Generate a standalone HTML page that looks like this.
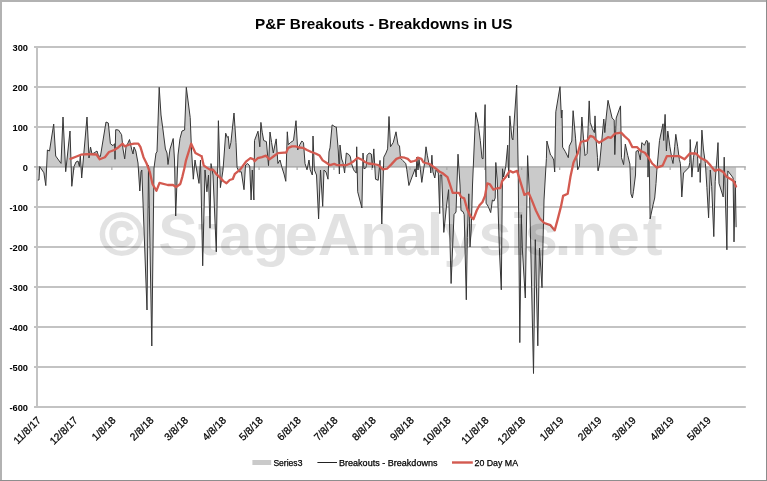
<!DOCTYPE html><html><head><meta charset="utf-8"><style>html,body{margin:0;padding:0;background:#fff;}svg{display:block;} svg text{filter:grayscale(1);}</style></head><body>
<svg width="767" height="481" viewBox="0 0 767 481">
<rect x="0" y="0" width="767" height="481" fill="#ffffff"/>
<rect x="34" y="46.00" width="711.80" height="2" fill="#c3c3c3"/>
<rect x="34" y="86.00" width="711.80" height="2" fill="#c3c3c3"/>
<rect x="34" y="126.00" width="711.80" height="2" fill="#c3c3c3"/>
<rect x="34" y="206.00" width="711.80" height="2" fill="#c3c3c3"/>
<rect x="34" y="246.00" width="711.80" height="2" fill="#c3c3c3"/>
<rect x="34" y="286.00" width="711.80" height="2" fill="#c3c3c3"/>
<rect x="34" y="326.00" width="711.80" height="2" fill="#c3c3c3"/>
<rect x="34" y="366.00" width="711.80" height="2" fill="#c3c3c3"/>
<rect x="34" y="406.00" width="711.80" height="2" fill="#c3c3c3"/>
<rect x="36" y="46.00" width="2" height="362.00" fill="#c3c3c3"/>
<text x="28.0" y="51.10" text-anchor="end" font-family="Liberation Sans, sans-serif" font-size="9.3" font-weight="bold" fill="#000">300</text>
<text x="28.0" y="91.10" text-anchor="end" font-family="Liberation Sans, sans-serif" font-size="9.3" font-weight="bold" fill="#000">200</text>
<text x="28.0" y="131.10" text-anchor="end" font-family="Liberation Sans, sans-serif" font-size="9.3" font-weight="bold" fill="#000">100</text>
<text x="28.0" y="171.10" text-anchor="end" font-family="Liberation Sans, sans-serif" font-size="9.3" font-weight="bold" fill="#000">0</text>
<text x="28.0" y="211.10" text-anchor="end" font-family="Liberation Sans, sans-serif" font-size="9.3" font-weight="bold" fill="#000">-100</text>
<text x="28.0" y="251.10" text-anchor="end" font-family="Liberation Sans, sans-serif" font-size="9.3" font-weight="bold" fill="#000">-200</text>
<text x="28.0" y="291.10" text-anchor="end" font-family="Liberation Sans, sans-serif" font-size="9.3" font-weight="bold" fill="#000">-300</text>
<text x="28.0" y="331.10" text-anchor="end" font-family="Liberation Sans, sans-serif" font-size="9.3" font-weight="bold" fill="#000">-400</text>
<text x="28.0" y="371.10" text-anchor="end" font-family="Liberation Sans, sans-serif" font-size="9.3" font-weight="bold" fill="#000">-500</text>
<text x="28.0" y="411.10" text-anchor="end" font-family="Liberation Sans, sans-serif" font-size="9.3" font-weight="bold" fill="#000">-600</text>
<path d="M37.7,167.0 L37.7,180.0 39.0,180.0 39.7,166.5 43.9,172.8 45.8,185.6 47.4,150.0 49.5,151.0 53.7,124.0 55.7,156.0 61.0,163.4 63.0,117.0 65.7,171.7 70.0,131.0 71.8,186.3 74.0,166.5 76.0,162.0 78.0,161.0 79.4,166.5 80.3,155.0 81.7,178.0 87.0,117.0 89.0,158.0 90.5,147.0 92.0,154.0 94.0,153.0 97.0,151.0 98.4,155.7 100.4,156.5 106.0,122.0 108.3,123.0 110.4,143.7 113.0,145.7 114.6,143.7 115.0,159.3 115.7,129.7 118.5,130.0 121.6,134.7 123.0,149.0 124.7,158.9 126.0,147.0 128.0,143.0 129.5,139.5 131.6,149.0 133.0,154.0 134.0,147.0 135.8,151.0 138.0,163.0 139.8,191.0 141.0,172.0 141.8,170.0 147.0,310.0 148.5,165.0 151.8,346.0 154.0,168.0 156.0,153.0 157.0,152.0 159.2,87.3 161.0,115.0 163.0,130.0 165.4,149.0 167.0,153.0 168.0,164.5 170.0,149.0 171.3,145.0 173.2,138.5 174.5,160.0 175.7,216.0 178.0,155.0 180.0,138.5 182.0,131.0 184.6,130.0 186.3,87.3 190.2,117.6 191.5,150.0 193.3,179.2 195.0,160.0 197.0,172.0 199.0,183.4 200.5,160.0 202.7,265.8 205.0,170.0 206.9,191.8 208.5,175.0 210.0,228.2 211.0,163.6 213.0,175.0 216.3,251.8 218.4,120.7 220.4,187.6 223.0,170.0 225.7,133.2 227.3,137.4 228.2,136.4 229.4,148.9 230.9,142.6 234.0,113.0 236.0,142.6 237.1,167.7 239.0,171.8 241.3,171.8 244.0,189.7 245.5,165.0 247.6,163.5 249.7,166.0 251.1,200.0 252.3,170.0 253.9,200.0 254.5,140.5 258.0,131.2 259.8,146.8 260.9,122.4 262.2,132.2 263.7,140.5 266.4,141.6 268.5,165.6 270.0,132.0 271.6,142.6 273.3,153.0 276.2,138.9 277.9,163.5 280.0,160.0 282.0,167.7 284.0,174.0 285.8,181.3 287.3,131.8 288.3,144.7 290.4,142.6 293.5,140.5 296.0,120.7 297.7,150.0 299.8,144.7 301.9,141.0 303.5,142.6 305.0,163.5 307.0,169.8 309.0,160.0 310.2,169.8 312.3,175.0 313.0,136.0 314.4,170.0 316.5,175.0 318.6,218.9 320.5,170.0 322.7,206.4 324.0,170.0 326.0,172.0 328.0,179.2 329.0,152.0 330.0,147.8 332.1,124.9 335.3,127.0 336.3,127.0 338.3,151.0 339.4,174.0 340.0,145.0 341.7,159.0 343.0,162.5 344.6,173.0 346.3,153.0 348.0,154.0 349.4,155.0 350.4,157.0 351.5,163.5 353.6,169.8 355.0,171.8 356.3,173.0 356.7,146.8 357.7,191.8 361.9,208.0 363.0,153.0 364.0,168.8 366.0,167.7 367.1,155.2 369.2,153.0 371.3,154.0 372.4,167.7 373.8,148.9 375.1,172.0 375.5,179.2 378.2,180.3 379.2,170.0 380.0,160.4 381.8,224.0 383.8,157.2 386.0,153.0 387.6,148.9 389.0,116.5 390.5,146.8 393.2,142.6 396.0,131.8 398.0,144.7 399.5,145.8 400.5,158.3 402.6,160.4 405.8,163.5 406.8,169.8 408.9,185.5 412.0,177.0 415.2,168.8 416.2,177.0 416.8,157.2 418.0,170.0 419.0,159.3 420.4,169.8 421.8,182.4 424.5,163.5 426.0,146.8 427.3,155.2 428.7,162.5 430.4,167.7 430.8,173.0 431.9,155.2 432.9,171.8 434.8,178.0 436.0,170.0 438.3,173.0 439.7,213.6 440.2,175.0 441.7,175.0 443.8,232.4 446.5,206.0 448.6,189.7 451.1,283.5 454.0,214.6 456.0,212.0 458.0,154.2 460.0,185.0 461.0,210.5 463.0,211.6 464.2,214.6 466.3,299.8 467.3,237.7 468.8,193.8 470.0,247.0 471.2,230.0 472.5,185.0 474.0,150.0 475.7,112.4 478.2,123.8 480.3,140.5 482.0,158.3 483.0,158.9 485.1,104.6 486.1,203.2 488.2,206.4 490.7,212.6 492.4,200.0 494.0,201.1 495.2,198.0 495.8,162.5 497.2,180.0 499.4,250.0 501.3,289.8 502.5,168.8 503.6,177.0 505.7,166.7 507.7,145.2 508.8,178.0 509.8,115.9 511.9,137.9 512.9,139.9 516.7,85.0 518.2,170.0 519.8,342.6 521.3,214.7 522.4,250.0 525.3,298.0 527.6,155.6 529.7,200.0 533.5,373.5 535.3,239.7 537.8,345.8 539.5,248.0 542.0,287.7 544.0,200.0 546.4,158.4 546.9,141.0 550.5,155.0 552.2,156.6 553.7,160.0 554.7,172.0 555.8,111.8 560.0,86.7 561.4,118.0 562.0,110.0 562.6,147.2 565.2,151.4 568.3,157.7 569.3,146.2 571.8,141.0 573.1,110.7 575.6,138.9 577.7,169.8 579.4,166.0 581.9,117.0 583.5,138.9 585.0,155.6 587.1,153.5 589.2,100.9 590.2,122.2 592.3,128.5 594.4,132.6 595.0,115.9 596.0,138.9 597.5,157.7 598.1,170.9 599.6,164.0 603.8,119.0 604.8,132.6 605.9,120.1 608.0,100.3 612.1,118.0 614.2,120.1 614.8,154.6 616.2,118.0 620.5,105.9 621.5,157.7 623.6,164.6 625.3,144.1 627.8,155.6 629.9,164.0 630.9,193.8 632.4,198.0 633.4,191.8 635.5,175.0 636.0,151.4 638.2,150.4 640.3,159.8 641.8,142.6 644.5,145.2 646.3,140.5 647.6,141.0 648.0,177.1 649.0,142.6 650.1,218.9 653.2,204.3 654.7,198.0 656.0,183.4 656.8,170.9 659.5,140.5 663.0,123.8 663.7,140.5 665.1,114.4 666.4,151.0 667.8,131.1 669.9,146.8 672.0,159.3 673.0,163.5 674.7,146.8 675.8,134.3 677.7,146.8 679.3,159.3 680.4,163.5 681.8,197.0 683.5,173.0 688.7,167.7 689.8,162.5 690.2,139.5 691.9,177.1 693.5,157.2 695.0,149.0 697.1,141.6 698.1,171.9 699.8,163.5 700.2,182.4 701.9,130.1 703.4,149.0 705.4,163.5 706.9,187.6 708.6,217.8 710.3,170.0 711.7,186.5 713.8,236.6 715.2,181.3 717.0,157.0 718.0,142.6 719.0,183.4 722.0,193.0 723.2,197.0 724.2,157.2 726.9,249.8 727.8,170.9 731.0,175.0 733.1,178.0 734.0,241.9 735.3,181.3 736.1,227.2 L736.1,167.0 Z" fill="#cacaca" stroke="none"/>
<rect x="34" y="166.20" width="711.80" height="1.4" fill="#a9a9a9"/>
<rect x="36.40" y="167.00" width="1.2" height="3" fill="#a9a9a9"/>
<rect x="73.21" y="167.00" width="1.2" height="3" fill="#a9a9a9"/>
<rect x="111.25" y="167.00" width="1.2" height="3" fill="#a9a9a9"/>
<rect x="149.28" y="167.00" width="1.2" height="3" fill="#a9a9a9"/>
<rect x="183.64" y="167.00" width="1.2" height="3" fill="#a9a9a9"/>
<rect x="221.68" y="167.00" width="1.2" height="3" fill="#a9a9a9"/>
<rect x="258.49" y="167.00" width="1.2" height="3" fill="#a9a9a9"/>
<rect x="296.52" y="167.00" width="1.2" height="3" fill="#a9a9a9"/>
<rect x="333.33" y="167.00" width="1.2" height="3" fill="#a9a9a9"/>
<rect x="371.37" y="167.00" width="1.2" height="3" fill="#a9a9a9"/>
<rect x="409.41" y="167.00" width="1.2" height="3" fill="#a9a9a9"/>
<rect x="446.22" y="167.00" width="1.2" height="3" fill="#a9a9a9"/>
<rect x="484.25" y="167.00" width="1.2" height="3" fill="#a9a9a9"/>
<rect x="521.06" y="167.00" width="1.2" height="3" fill="#a9a9a9"/>
<rect x="559.10" y="167.00" width="1.2" height="3" fill="#a9a9a9"/>
<rect x="597.14" y="167.00" width="1.2" height="3" fill="#a9a9a9"/>
<rect x="631.50" y="167.00" width="1.2" height="3" fill="#a9a9a9"/>
<rect x="669.53" y="167.00" width="1.2" height="3" fill="#a9a9a9"/>
<rect x="706.34" y="167.00" width="1.2" height="3" fill="#a9a9a9"/>
<rect x="744.38" y="167.00" width="1.2" height="3" fill="#a9a9a9"/>
<polyline points="37.7,180.0 39.0,180.0 39.7,166.5 43.9,172.8 45.8,185.6 47.4,150.0 49.5,151.0 53.7,124.0 55.7,156.0 61.0,163.4 63.0,117.0 65.7,171.7 70.0,131.0 71.8,186.3 74.0,166.5 76.0,162.0 78.0,161.0 79.4,166.5 80.3,155.0 81.7,178.0 87.0,117.0 89.0,158.0 90.5,147.0 92.0,154.0 94.0,153.0 97.0,151.0 98.4,155.7 100.4,156.5 106.0,122.0 108.3,123.0 110.4,143.7 113.0,145.7 114.6,143.7 115.0,159.3 115.7,129.7 118.5,130.0 121.6,134.7 123.0,149.0 124.7,158.9 126.0,147.0 128.0,143.0 129.5,139.5 131.6,149.0 133.0,154.0 134.0,147.0 135.8,151.0 138.0,163.0 139.8,191.0 141.0,172.0 141.8,170.0 147.0,310.0 148.5,165.0 151.8,346.0 154.0,168.0 156.0,153.0 157.0,152.0 159.2,87.3 161.0,115.0 163.0,130.0 165.4,149.0 167.0,153.0 168.0,164.5 170.0,149.0 171.3,145.0 173.2,138.5 174.5,160.0 175.7,216.0 178.0,155.0 180.0,138.5 182.0,131.0 184.6,130.0 186.3,87.3 190.2,117.6 191.5,150.0 193.3,179.2 195.0,160.0 197.0,172.0 199.0,183.4 200.5,160.0 202.7,265.8 205.0,170.0 206.9,191.8 208.5,175.0 210.0,228.2 211.0,163.6 213.0,175.0 216.3,251.8 218.4,120.7 220.4,187.6 223.0,170.0 225.7,133.2 227.3,137.4 228.2,136.4 229.4,148.9 230.9,142.6 234.0,113.0 236.0,142.6 237.1,167.7 239.0,171.8 241.3,171.8 244.0,189.7 245.5,165.0 247.6,163.5 249.7,166.0 251.1,200.0 252.3,170.0 253.9,200.0 254.5,140.5 258.0,131.2 259.8,146.8 260.9,122.4 262.2,132.2 263.7,140.5 266.4,141.6 268.5,165.6 270.0,132.0 271.6,142.6 273.3,153.0 276.2,138.9 277.9,163.5 280.0,160.0 282.0,167.7 284.0,174.0 285.8,181.3 287.3,131.8 288.3,144.7 290.4,142.6 293.5,140.5 296.0,120.7 297.7,150.0 299.8,144.7 301.9,141.0 303.5,142.6 305.0,163.5 307.0,169.8 309.0,160.0 310.2,169.8 312.3,175.0 313.0,136.0 314.4,170.0 316.5,175.0 318.6,218.9 320.5,170.0 322.7,206.4 324.0,170.0 326.0,172.0 328.0,179.2 329.0,152.0 330.0,147.8 332.1,124.9 335.3,127.0 336.3,127.0 338.3,151.0 339.4,174.0 340.0,145.0 341.7,159.0 343.0,162.5 344.6,173.0 346.3,153.0 348.0,154.0 349.4,155.0 350.4,157.0 351.5,163.5 353.6,169.8 355.0,171.8 356.3,173.0 356.7,146.8 357.7,191.8 361.9,208.0 363.0,153.0 364.0,168.8 366.0,167.7 367.1,155.2 369.2,153.0 371.3,154.0 372.4,167.7 373.8,148.9 375.1,172.0 375.5,179.2 378.2,180.3 379.2,170.0 380.0,160.4 381.8,224.0 383.8,157.2 386.0,153.0 387.6,148.9 389.0,116.5 390.5,146.8 393.2,142.6 396.0,131.8 398.0,144.7 399.5,145.8 400.5,158.3 402.6,160.4 405.8,163.5 406.8,169.8 408.9,185.5 412.0,177.0 415.2,168.8 416.2,177.0 416.8,157.2 418.0,170.0 419.0,159.3 420.4,169.8 421.8,182.4 424.5,163.5 426.0,146.8 427.3,155.2 428.7,162.5 430.4,167.7 430.8,173.0 431.9,155.2 432.9,171.8 434.8,178.0 436.0,170.0 438.3,173.0 439.7,213.6 440.2,175.0 441.7,175.0 443.8,232.4 446.5,206.0 448.6,189.7 451.1,283.5 454.0,214.6 456.0,212.0 458.0,154.2 460.0,185.0 461.0,210.5 463.0,211.6 464.2,214.6 466.3,299.8 467.3,237.7 468.8,193.8 470.0,247.0 471.2,230.0 472.5,185.0 474.0,150.0 475.7,112.4 478.2,123.8 480.3,140.5 482.0,158.3 483.0,158.9 485.1,104.6 486.1,203.2 488.2,206.4 490.7,212.6 492.4,200.0 494.0,201.1 495.2,198.0 495.8,162.5 497.2,180.0 499.4,250.0 501.3,289.8 502.5,168.8 503.6,177.0 505.7,166.7 507.7,145.2 508.8,178.0 509.8,115.9 511.9,137.9 512.9,139.9 516.7,85.0 518.2,170.0 519.8,342.6 521.3,214.7 522.4,250.0 525.3,298.0 527.6,155.6 529.7,200.0 533.5,373.5 535.3,239.7 537.8,345.8 539.5,248.0 542.0,287.7 544.0,200.0 546.4,158.4 546.9,141.0 550.5,155.0 552.2,156.6 553.7,160.0 554.7,172.0 555.8,111.8 560.0,86.7 561.4,118.0 562.0,110.0 562.6,147.2 565.2,151.4 568.3,157.7 569.3,146.2 571.8,141.0 573.1,110.7 575.6,138.9 577.7,169.8 579.4,166.0 581.9,117.0 583.5,138.9 585.0,155.6 587.1,153.5 589.2,100.9 590.2,122.2 592.3,128.5 594.4,132.6 595.0,115.9 596.0,138.9 597.5,157.7 598.1,170.9 599.6,164.0 603.8,119.0 604.8,132.6 605.9,120.1 608.0,100.3 612.1,118.0 614.2,120.1 614.8,154.6 616.2,118.0 620.5,105.9 621.5,157.7 623.6,164.6 625.3,144.1 627.8,155.6 629.9,164.0 630.9,193.8 632.4,198.0 633.4,191.8 635.5,175.0 636.0,151.4 638.2,150.4 640.3,159.8 641.8,142.6 644.5,145.2 646.3,140.5 647.6,141.0 648.0,177.1 649.0,142.6 650.1,218.9 653.2,204.3 654.7,198.0 656.0,183.4 656.8,170.9 659.5,140.5 663.0,123.8 663.7,140.5 665.1,114.4 666.4,151.0 667.8,131.1 669.9,146.8 672.0,159.3 673.0,163.5 674.7,146.8 675.8,134.3 677.7,146.8 679.3,159.3 680.4,163.5 681.8,197.0 683.5,173.0 688.7,167.7 689.8,162.5 690.2,139.5 691.9,177.1 693.5,157.2 695.0,149.0 697.1,141.6 698.1,171.9 699.8,163.5 700.2,182.4 701.9,130.1 703.4,149.0 705.4,163.5 706.9,187.6 708.6,217.8 710.3,170.0 711.7,186.5 713.8,236.6 715.2,181.3 717.0,157.0 718.0,142.6 719.0,183.4 722.0,193.0 723.2,197.0 724.2,157.2 726.9,249.8 727.8,170.9 731.0,175.0 733.1,178.0 734.0,241.9 735.3,181.3 736.1,227.2" fill="none" stroke="#363636" stroke-width="1" stroke-linejoin="miter" stroke-miterlimit="3"/>
<polyline points="70.4,158.9 74.6,157.2 80.9,154.7 87.1,154.1 96.5,154.5 99.7,159.3 104.9,157.2 109.0,152.0 114.3,150.0 118.5,147.2 122.6,143.7 124.7,146.4 128.9,144.7 134.1,143.7 138.3,143.7 140.4,146.8 143.5,157.2 146.6,163.5 149.8,171.9 152.5,184.0 156.4,190.8 159.5,182.9 167.8,185.0 173.0,185.0 176.1,187.0 180.3,184.0 182.4,176.6 184.4,168.3 186.0,160.3 191.2,143.7 195.4,153.0 200.6,155.7 201.6,156.1 203.7,165.5 206.8,167.6 209.9,169.6 213.0,169.6 216.1,173.8 219.3,176.9 223.4,181.1 226.5,183.2 229.7,180.0 232.8,179.0 234.9,173.8 240.1,169.6 246.3,161.3 250.4,158.2 253.6,159.3 254.6,161.3 257.7,158.2 261.9,157.2 266.0,155.7 269.5,159.4 273.7,156.3 277.9,153.1 284.0,152.6 286.2,152.5 288.3,147.8 292.0,146.4 295.6,146.4 299.0,147.5 302.9,147.8 307.0,150.0 311.3,152.0 315.5,153.5 319.6,155.6 322.7,160.4 326.0,162.5 330.0,165.2 334.2,163.9 337.3,165.2 346.0,165.2 350.4,163.5 354.0,161.0 357.7,157.7 361.9,159.7 365.0,162.0 368.2,163.5 373.0,164.0 378.6,165.2 382.8,169.4 387.0,168.7 391.1,164.6 396.4,158.9 400.5,157.2 404.7,157.7 407.8,158.9 410.6,161.8 414.0,161.0 416.2,160.4 417.7,157.7 421.4,158.9 423.5,162.5 427.7,163.5 430.8,164.6 434.0,167.3 436.0,168.7 439.8,171.8 442.3,173.0 447.5,177.1 449.6,183.4 452.7,192.8 456.0,192.8 459.0,192.8 461.1,197.0 464.2,198.4 467.3,209.5 470.5,216.4 473.5,219.2 476.7,210.5 479.5,205.3 482.5,202.0 485.0,196.0 487.2,183.4 490.0,184.4 493.4,189.7 497.0,188.3 500.4,188.0 502.1,181.3 505.7,177.1 509.8,170.9 513.0,172.5 517.1,170.9 520.3,181.3 524.4,194.9 528.6,192.8 531.8,200.1 535.9,210.5 540.1,218.9 544.3,223.0 550.5,225.2 554.7,230.4 557.8,218.9 561.0,206.4 563.1,195.9 567.7,193.8 570.4,177.1 573.5,162.5 577.7,153.5 580.8,142.0 584.0,141.0 587.1,140.6 590.2,135.8 593.3,136.8 596.0,140.0 599.0,142.7 603.5,140.0 608.0,137.2 611.0,137.8 614.8,133.7 621.1,132.6 624.7,136.4 628.8,140.0 632.4,147.2 637.2,147.2 640.7,151.0 644.9,152.7 649.0,158.3 652.2,163.5 656.8,167.7 662.6,165.6 666.8,156.2 672.0,156.2 679.3,156.2 684.6,159.3 689.8,153.5 696.0,153.5 700.2,157.7 706.5,161.0 710.6,165.6 714.8,170.8 719.0,169.4 723.2,171.9 726.3,176.5 730.5,179.0 733.6,181.0 736.0,186.5" fill="none" stroke="#d35a50" stroke-width="2.3" stroke-linejoin="round" stroke-linecap="round"/>
<g fill="#000" opacity="0.11" font-family="Liberation Sans, sans-serif" font-weight="bold">
<text x="99.82" y="255.0" font-size="59.5" stroke="#000" stroke-width="2.2">©</text>
<text x="158.26 197.69 219.29 252.80 284.86 317.66 360.16 395.04 426.86 443.53 478.53 510.11 524.78 554.71 571.06 606.76 642.79" y="255.0" font-size="59.5">StageAnalysis.net</text>
</g>
<text x="41.50" y="421.00" text-anchor="end" transform="rotate(-45 41.50 421.00)" font-family="Liberation Sans, sans-serif" font-size="10.3" fill="#000" stroke="#000" stroke-width="0.25">11/8/17</text>
<text x="78.31" y="421.00" text-anchor="end" transform="rotate(-45 78.31 421.00)" font-family="Liberation Sans, sans-serif" font-size="10.3" fill="#000" stroke="#000" stroke-width="0.25">12/8/17</text>
<text x="116.35" y="421.00" text-anchor="end" transform="rotate(-45 116.35 421.00)" font-family="Liberation Sans, sans-serif" font-size="10.3" fill="#000" stroke="#000" stroke-width="0.25">1/8/18</text>
<text x="154.38" y="421.00" text-anchor="end" transform="rotate(-45 154.38 421.00)" font-family="Liberation Sans, sans-serif" font-size="10.3" fill="#000" stroke="#000" stroke-width="0.25">2/8/18</text>
<text x="188.74" y="421.00" text-anchor="end" transform="rotate(-45 188.74 421.00)" font-family="Liberation Sans, sans-serif" font-size="10.3" fill="#000" stroke="#000" stroke-width="0.25">3/8/18</text>
<text x="226.78" y="421.00" text-anchor="end" transform="rotate(-45 226.78 421.00)" font-family="Liberation Sans, sans-serif" font-size="10.3" fill="#000" stroke="#000" stroke-width="0.25">4/8/18</text>
<text x="263.59" y="421.00" text-anchor="end" transform="rotate(-45 263.59 421.00)" font-family="Liberation Sans, sans-serif" font-size="10.3" fill="#000" stroke="#000" stroke-width="0.25">5/8/18</text>
<text x="301.62" y="421.00" text-anchor="end" transform="rotate(-45 301.62 421.00)" font-family="Liberation Sans, sans-serif" font-size="10.3" fill="#000" stroke="#000" stroke-width="0.25">6/8/18</text>
<text x="338.43" y="421.00" text-anchor="end" transform="rotate(-45 338.43 421.00)" font-family="Liberation Sans, sans-serif" font-size="10.3" fill="#000" stroke="#000" stroke-width="0.25">7/8/18</text>
<text x="376.47" y="421.00" text-anchor="end" transform="rotate(-45 376.47 421.00)" font-family="Liberation Sans, sans-serif" font-size="10.3" fill="#000" stroke="#000" stroke-width="0.25">8/8/18</text>
<text x="414.51" y="421.00" text-anchor="end" transform="rotate(-45 414.51 421.00)" font-family="Liberation Sans, sans-serif" font-size="10.3" fill="#000" stroke="#000" stroke-width="0.25">9/8/18</text>
<text x="451.32" y="421.00" text-anchor="end" transform="rotate(-45 451.32 421.00)" font-family="Liberation Sans, sans-serif" font-size="10.3" fill="#000" stroke="#000" stroke-width="0.25">10/8/18</text>
<text x="489.36" y="421.00" text-anchor="end" transform="rotate(-45 489.36 421.00)" font-family="Liberation Sans, sans-serif" font-size="10.3" fill="#000" stroke="#000" stroke-width="0.25">11/8/18</text>
<text x="526.16" y="421.00" text-anchor="end" transform="rotate(-45 526.16 421.00)" font-family="Liberation Sans, sans-serif" font-size="10.3" fill="#000" stroke="#000" stroke-width="0.25">12/8/18</text>
<text x="564.20" y="421.00" text-anchor="end" transform="rotate(-45 564.20 421.00)" font-family="Liberation Sans, sans-serif" font-size="10.3" fill="#000" stroke="#000" stroke-width="0.25">1/8/19</text>
<text x="602.24" y="421.00" text-anchor="end" transform="rotate(-45 602.24 421.00)" font-family="Liberation Sans, sans-serif" font-size="10.3" fill="#000" stroke="#000" stroke-width="0.25">2/8/19</text>
<text x="636.60" y="421.00" text-anchor="end" transform="rotate(-45 636.60 421.00)" font-family="Liberation Sans, sans-serif" font-size="10.3" fill="#000" stroke="#000" stroke-width="0.25">3/8/19</text>
<text x="674.63" y="421.00" text-anchor="end" transform="rotate(-45 674.63 421.00)" font-family="Liberation Sans, sans-serif" font-size="10.3" fill="#000" stroke="#000" stroke-width="0.25">4/8/19</text>
<text x="711.44" y="421.00" text-anchor="end" transform="rotate(-45 711.44 421.00)" font-family="Liberation Sans, sans-serif" font-size="10.3" fill="#000" stroke="#000" stroke-width="0.25">5/8/19</text>
<text x="255" y="28.7" font-family="Liberation Sans, sans-serif" font-size="14.8" font-weight="bold" fill="#000" textLength="257.5" lengthAdjust="spacingAndGlyphs">P&amp;F Breakouts - Breakdowns in US</text>
<rect x="252.4" y="460" width="18.8" height="5" fill="#cacaca"/>
<text x="273.4" y="465.8" font-family="Liberation Sans, sans-serif" font-size="8.8" fill="#000" textLength="29" lengthAdjust="spacingAndGlyphs" stroke="#000" stroke-width="0.25">Series3</text>
<rect x="317.4" y="462" width="19.6" height="1" fill="#222"/>
<text x="339" y="465.8" font-family="Liberation Sans, sans-serif" font-size="8.8" fill="#000" textLength="98.5" lengthAdjust="spacingAndGlyphs" stroke="#000" stroke-width="0.25">Breakouts - Breakdowns</text>
<rect x="452" y="461.3" width="20.8" height="2.4" fill="#d35a50"/>
<text x="474.5" y="465.8" font-family="Liberation Sans, sans-serif" font-size="8.8" fill="#000" textLength="43.5" lengthAdjust="spacingAndGlyphs" stroke="#000" stroke-width="0.25">20 Day MA</text>
<rect x="0" y="0" width="767" height="2" fill="#b2b2b2"/>
<rect x="0" y="0" width="2" height="481" fill="#b2b2b2"/>
<rect x="766" y="0" width="1" height="481" fill="#8c8c8c"/>
<rect x="0" y="480" width="767" height="1" fill="#8e8e8e"/>
</svg></body></html>
